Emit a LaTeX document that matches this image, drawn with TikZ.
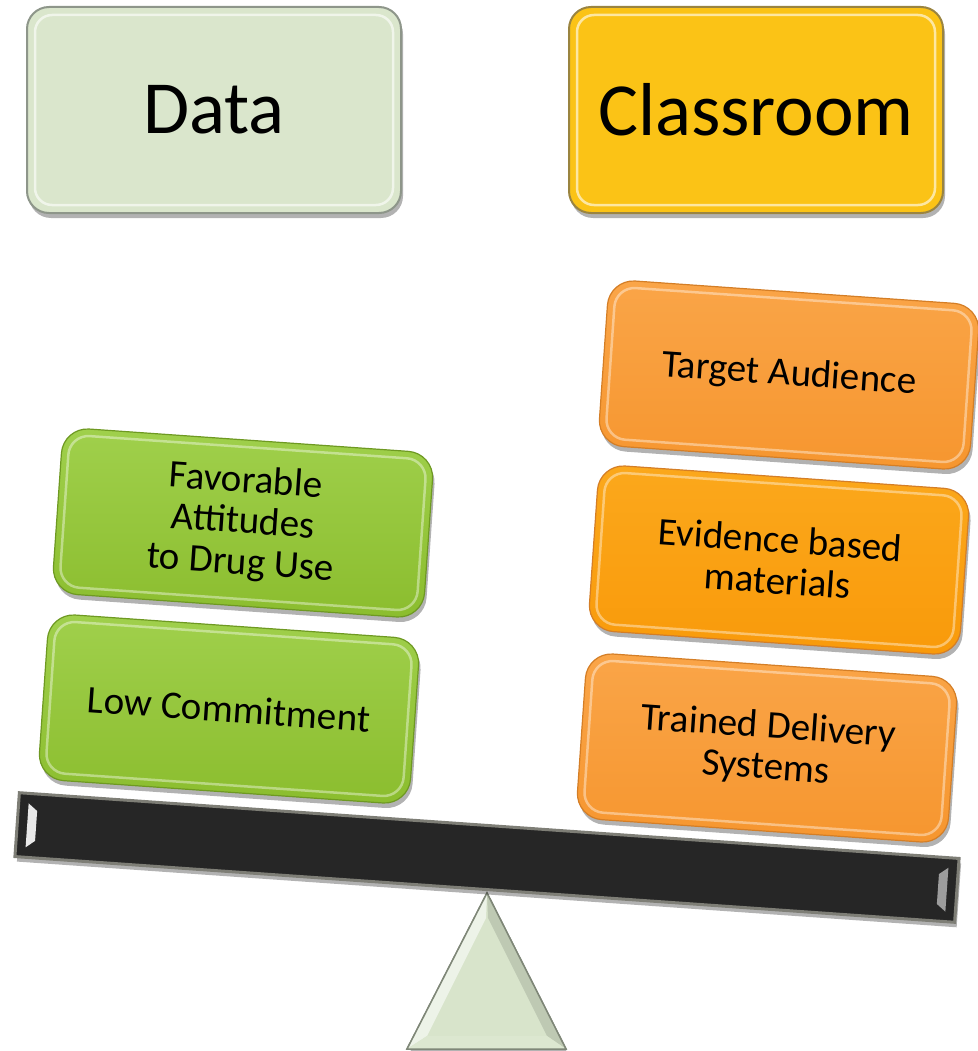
\documentclass[tikz,border=0pt]{standalone}
\usepackage{fontspec}
\setmainfont{Carlito}
\usetikzlibrary{shadows}
\definecolor{datafill}{HTML}{DAE6CC}
\definecolor{dataedge}{HTML}{8E968A}
\definecolor{classfill}{HTML}{FBC316}
\definecolor{classedge}{HTML}{9A8440}
\definecolor{greentop}{HTML}{A0D04C}
\definecolor{greenbot}{HTML}{8BBD2E}
\definecolor{greenedge}{HTML}{6E9922}
\definecolor{orangetop}{HTML}{FAA548}
\definecolor{orangebot}{HTML}{F6962F}
\definecolor{orangeedge}{HTML}{D47E26}
\definecolor{evidtop}{HTML}{FBA81C}
\definecolor{evidbot}{HTML}{F99A0A}
\definecolor{beamfill}{HTML}{262626}
\definecolor{beamedge}{HTML}{7E7E76}
\definecolor{trifill}{HTML}{D8E4CB}
\definecolor{triedge}{HTML}{7F8778}
\begin{document}
\begin{tikzpicture}[x=1pt,y=-1pt,
  shade/.style={drop shadow={shadow xshift=2pt,shadow yshift=-5pt,opacity=.3,fill=black}},
  topbox/.style={rounded corners=22pt, minimum width=374pt, minimum height=206pt,
    line width=2pt, inner sep=0pt, font=\fontsize{75}{80}\selectfont, shade},
  topbevel/.style={rounded corners=17pt, minimum width=358pt, minimum height=190pt,
    draw=white, line width=2.5pt, draw opacity=.6},
  tile/.style={rounded corners=26pt, minimum width=372pt, minimum height=166pt,
    line width=1.2pt, inner sep=0pt, align=center,
    font=\fontsize{39}{41}\selectfont, rotate=-4, shade},
  tilebevel/.style={rounded corners=20pt, minimum width=358pt, minimum height=152pt,
    draw=white, line width=2.5pt, draw opacity=.4, rotate=-4},
  greentile/.style={tile, draw=greenedge, top color=greentop, bottom color=greenbot},
  orangetile/.style={tile, draw=orangeedge, top color=orangetop, bottom color=orangebot},
  evidtile/.style={tile, draw=orangeedge, top color=evidtop, bottom color=evidbot}
]
\useasboundingbox (0,0) rectangle (977,1051);

% top boxes
\node[topbox, draw=dataedge, fill=datafill] (data) at (214,110) {Data};
\node[topbevel] (databev) at (data.center) {};
\node[topbox, draw=classedge, fill=classfill] (class) at (756,110) {Classroom};
\node[topbevel] (classbev) at (class.center) {};

% fulcrum
\draw[fill=trifill, draw=triedge, line width=1.5pt, shade]
  (487,893) -- (566,1049) -- (407,1049) -- cycle;
\fill[white!55!trifill] (487,893) -- (407,1049) -- (427,1036) -- (486,918) -- cycle;
\fill[trifill!88!black] (487,893) -- (566,1049) -- (547,1036) -- (488,918) -- cycle;
\fill[trifill!90!white] (407,1049) -- (566,1049) -- (547,1036) -- (427,1036) -- cycle;
\draw[triedge, line width=1.5pt] (487,893) -- (566,1049) -- (407,1049) -- cycle;

% beam
\node[draw=beamedge, fill=beamfill, line width=3pt, minimum width=942pt,
  minimum height=64pt, rotate=-4, shade] (beam) at (487,857.5) {};
\begin{scope}[shift={(beam.center)}, rotate=-4]
  \fill[white, opacity=.9] (-461,-22) -- (-452,-15) -- (-452,15) -- (-461,22) -- cycle;
  \fill[white, opacity=.55] (461,-22) -- (452,-15) -- (452,15) -- (461,22) -- cycle;
\end{scope}

% left pan
\node[greentile] (fav) at (243,523) {Favorable\\Attitudes\\to Drug Use};
\node[tilebevel] (favbev) at (fav.center) {};
\node[greentile] (low) at (229,709) {Low Commitment};
\node[tilebevel] (lowbev) at (low.center) {};

% right pan
\node[orangetile] (target) at (789,375) {Target Audience};
\node[tilebevel] (targetbev) at (target.center) {};
\node[evidtile] (evid) at (779,560) {Evidence based\\materials};
\node[tilebevel] (evidbev) at (evid.center) {};
\node[orangetile] (trained) at (767,748) {Trained Delivery\\Systems};
\node[tilebevel] (trainedbev) at (trained.center) {};
\end{tikzpicture}
\end{document}
